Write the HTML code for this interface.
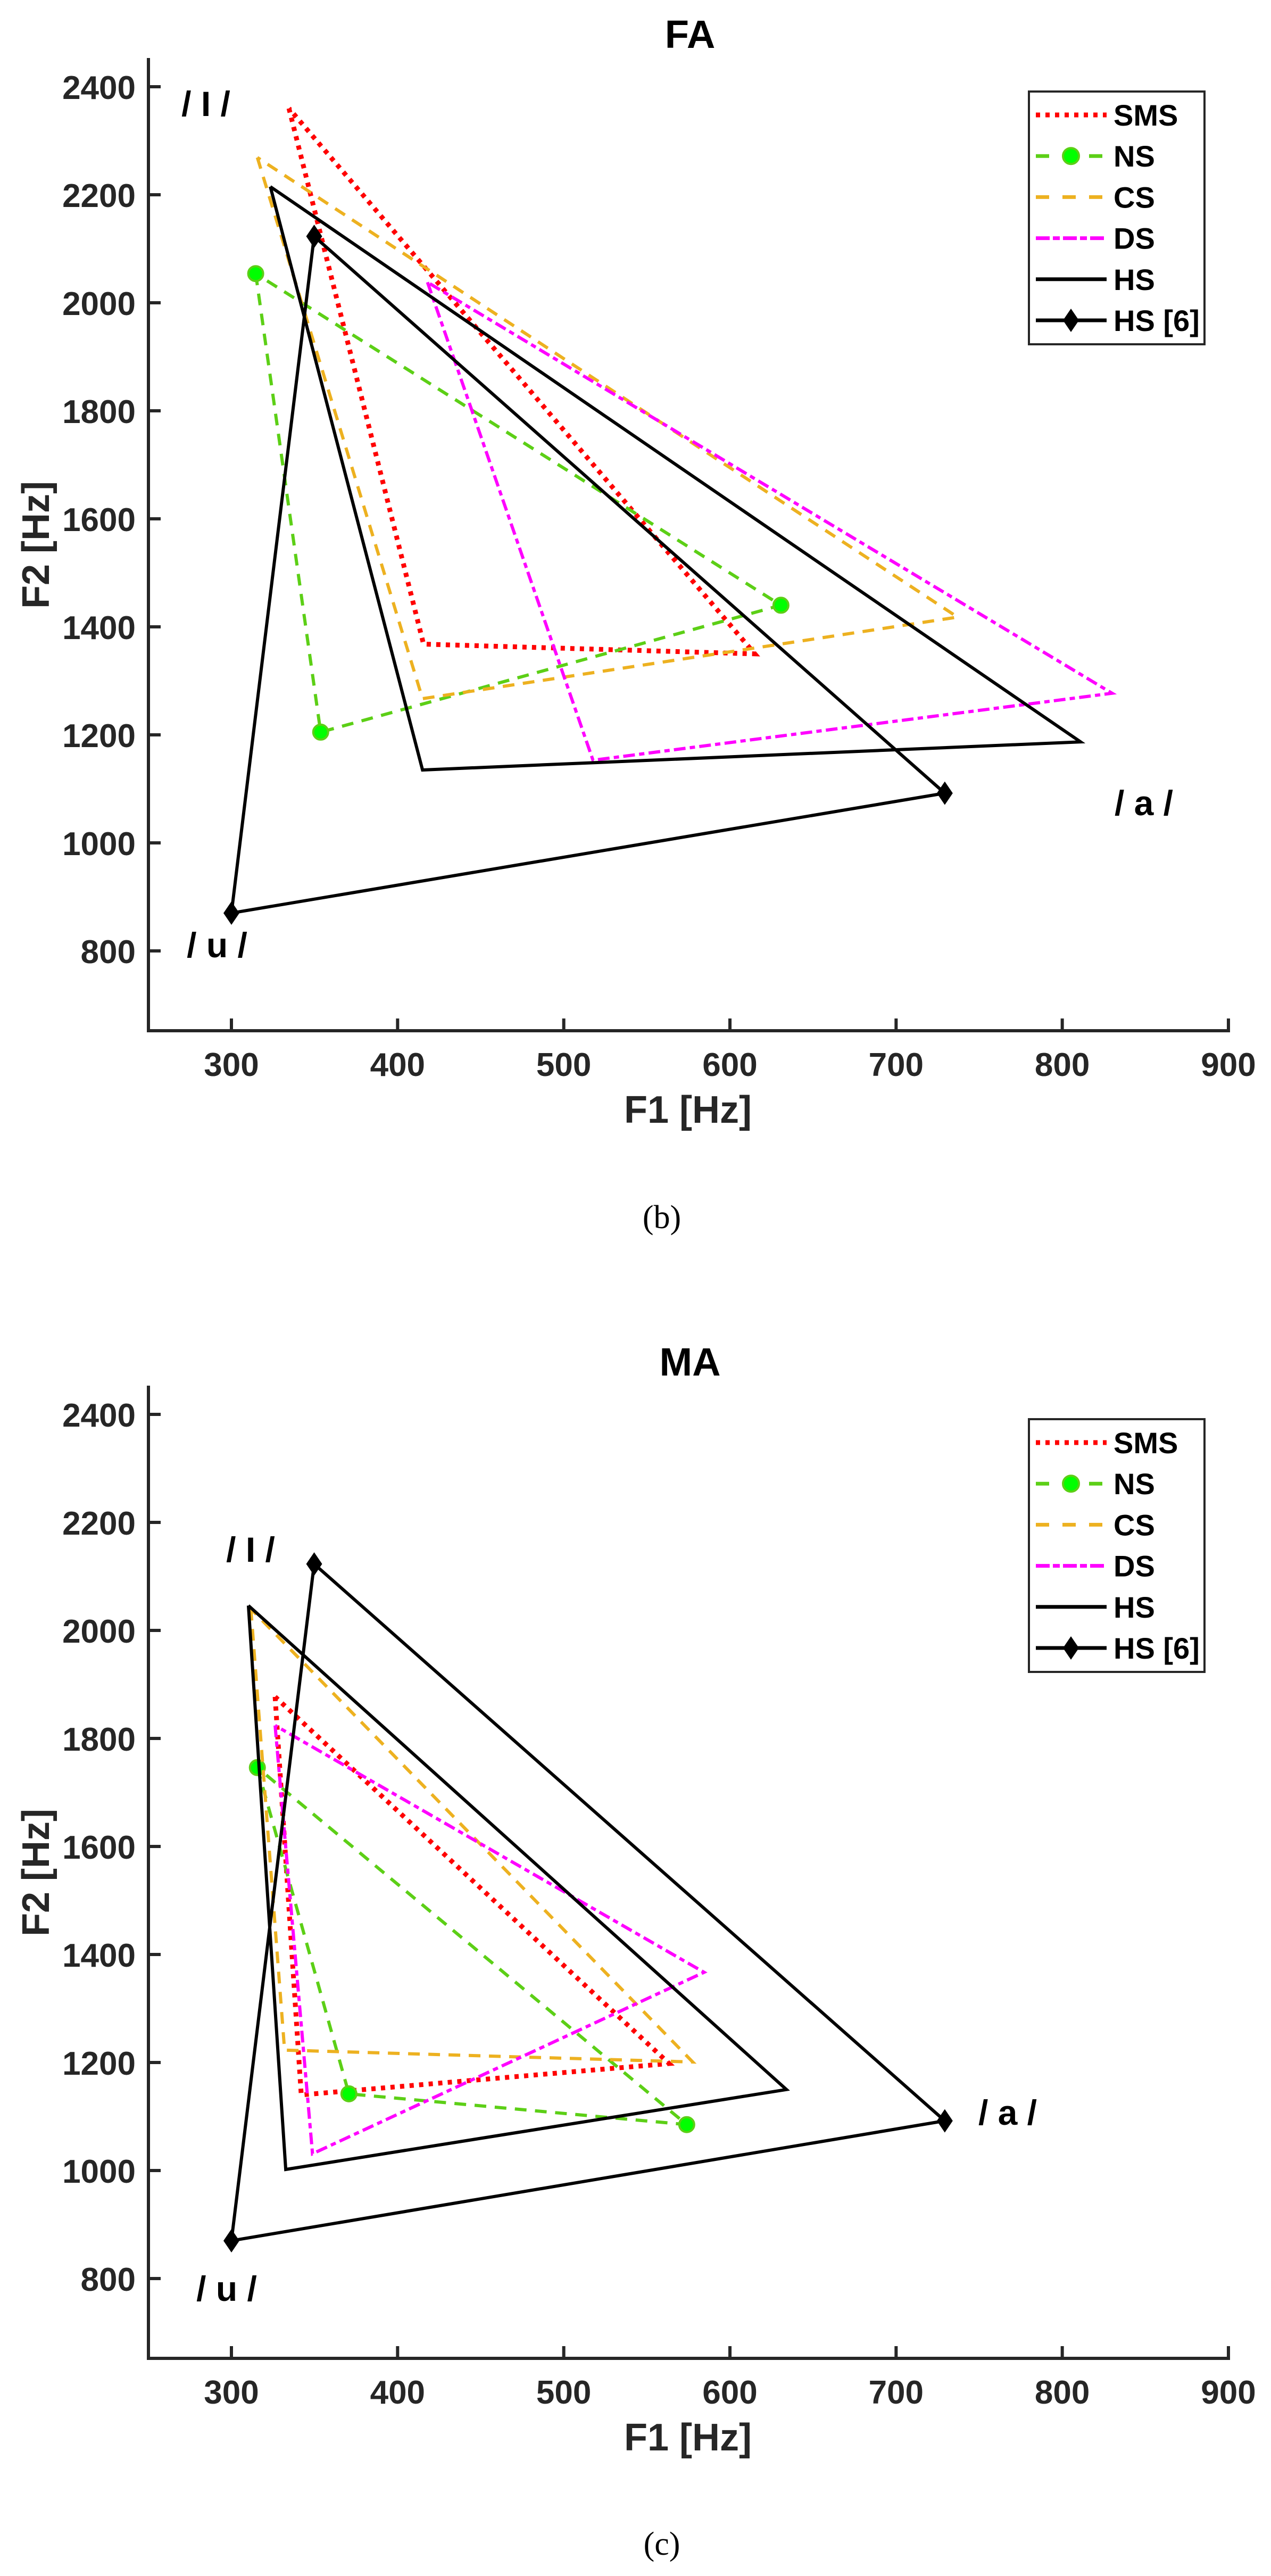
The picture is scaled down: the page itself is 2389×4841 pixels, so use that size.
<!DOCTYPE html>
<html><head><meta charset="utf-8"><style>
html,body{margin:0;padding:0;background:#fff;}
svg{display:block;}
</style></head><body>
<svg id="s" xmlns="http://www.w3.org/2000/svg" width="2389" height="4841" viewBox="0 0 2389 4841" font-family="Liberation Sans, Arial, sans-serif"></svg>
<script>
const NS="http://www.w3.org/2000/svg";
const svg=document.getElementById('s');
function el(tag,attrs,text){const e=document.createElementNS(NS,tag);for(const k in attrs)e.setAttribute(k,attrs[k]);if(text!==undefined)e.textContent=text;svg.appendChild(e);return e;}
const styles={
 SMS:{stroke:'#ff0000',w:9,dash:'8 10'},
 NS:{stroke:'#5ccf16',w:6,dash:'22 16'},
 CS:{stroke:'#edb120',w:6,dash:'22 16'},
 DS:{stroke:'#ff00ff',w:6,dash:'22 8 10 8'},
 HS:{stroke:'#000000',w:6,dash:'none'},
 HS6:{stroke:'#000000',w:6,dash:'none'}
};
function panel(off,title,data,labels){
 const X=f=>435+(f-300)*3.1233;
 const Y=f=>163+off+(2400-f)*1.0150;
 el('text',{x:1297,y:off+90,'font-size':74,'font-weight':'bold','text-anchor':'middle',fill:'#000'},title);
 el('line',{x1:279,y1:off+109,x2:279,y2:off+1940,stroke:'#262626','stroke-width':6});
 el('line',{x1:276,y1:off+1937,x2:2312,y2:off+1937,stroke:'#262626','stroke-width':6});
 for(let f=300;f<=900;f+=100){const x=X(f);
  el('line',{x1:x,y1:off+1937,x2:x,y2:off+1914,stroke:'#262626','stroke-width':6});
  el('text',{x:x,y:off+2022,'font-size':62,'font-weight':'bold','text-anchor':'middle',fill:'#262626'},String(f));}
 for(let f=800;f<=2400;f+=200){const y=Y(f);
  el('line',{x1:279,y1:y,x2:302,y2:y,stroke:'#262626','stroke-width':6});
  el('text',{x:255,y:y+23,'font-size':62,'font-weight':'bold','text-anchor':'end',fill:'#262626'},String(f));}
 el('text',{x:1293,y:off+2110,'font-size':72,'font-weight':'bold','text-anchor':'middle',fill:'#262626'},'F1 [Hz]');
 el('text',{x:0,y:0,'font-size':72,'font-weight':'bold','text-anchor':'middle',fill:'#262626',transform:`translate(92,${off+1024}) rotate(-90)`},'F2 [Hz]');
 for(const l of labels) el('text',{x:l[1],y:l[2]+off+24,'font-size':66,'font-weight':'bold','text-anchor':'middle',fill:'#000'},l[0]);
 for(const key of ['SMS','NS','CS','DS','HS','HS6']){
  const st=styles[key];const pts=data[key];
  const p=pts.concat([pts[0]]).map(q=>X(q[0]).toFixed(1)+','+Y(q[1]).toFixed(1)).join(' ');
  el('polyline',{points:p,fill:'none',stroke:st.stroke,'stroke-width':st.w,'stroke-dasharray':st.dash,'stroke-linejoin':'miter'});
  if(key==='NS') for(const q of pts) el('circle',{cx:X(q[0]),cy:Y(q[1]),r:14,fill:'#00ff00',stroke:'#5ccf16','stroke-width':4});
  if(key==='HS6') for(const q of pts){const x=X(q[0]),y=Y(q[1]);
   el('polygon',{points:`${x},${y-22} ${x+15},${y} ${x},${y+22} ${x-15},${y}`,fill:'#000'});}
 }
 const lx=1934,ly=off+172;
 el('rect',{x:lx,y:ly,width:330,height:475,fill:'#fff',stroke:'#262626','stroke-width':4});
 const names=[['SMS','SMS'],['NS','NS'],['CS','CS'],['DS','DS'],['HS','HS'],['HS6','HS [6]']];
 const lst={SMS:{s:'#ff0000',w:9,d:'8 10'},NS:{s:'#5ccf16',w:7,d:'25 25'},CS:{s:'#edb120',w:7,d:'25 25'},DS:{s:'#ff00ff',w:7,d:'26 6 13 6'},HS:{s:'#000',w:7,d:'none'},HS6:{s:'#000',w:7,d:'none'}};
 names.forEach((n,i)=>{const y=off+216+i*77.2;const s=lst[n[0]];
  el('line',{x1:1947,y1:y,x2:2080,y2:y,stroke:s.s,'stroke-width':s.w,'stroke-dasharray':s.d});
  if(n[0]==='NS') el('circle',{cx:2013,cy:y,r:15,fill:'#00ff00',stroke:'#5ccf16','stroke-width':4});
  if(n[0]==='HS6') el('polygon',{points:`2013,${y-22} 2028,${y} 2013,${y+22} 1998,${y}`,fill:'#000'});
  el('text',{x:2093,y:y+20,'font-size':56,'font-weight':'bold',fill:'#000'},n[1]);
 });
}
const hs6=[[349.8,2123],[300,870],[729.3,1092]];
panel(0,'FA',{
 SMS:[[334.6,2360],[415.6,1368],[615,1350]],
 NS:[[314.6,2054],[353.7,1205],[630.7,1440]],
 CS:[[315.6,2269],[415,1267],[737,1418]],
 DS:[[418,2038],[517.6,1153],[830,1277]],
 HS:[[323.4,2215],[415,1135],[811,1187]],
 HS6:hs6
},[['/ I /',387,194],['/ u /',408,1775],['/ a /',2150,1508]]);
panel(2495,'MA',{
 SMS:[[326.3,1877],[342,1140],[563.4,1198]],
 NS:[[315.6,1746],[370.7,1142],[574,1085]],
 CS:[[311.7,2040],[332,1223],[577.6,1201]],
 DS:[[326.3,1824],[348.8,1031],[584.4,1367]],
 HS:[[310.2,2046],[332.7,1002],[634,1150]],
 HS6:hs6
},[['/ I /',471,416],['/ u /',426,1805],['/ a /',1894,1474]]);
el('text',{x:1244,y:2308,'font-size':62,'text-anchor':'middle',fill:'#000','font-family':'Liberation Serif, serif'},'(b)');
el('text',{x:1244,y:4801,'font-size':62,'text-anchor':'middle',fill:'#000','font-family':'Liberation Serif, serif'},'(c)');
</script>
</body></html>
